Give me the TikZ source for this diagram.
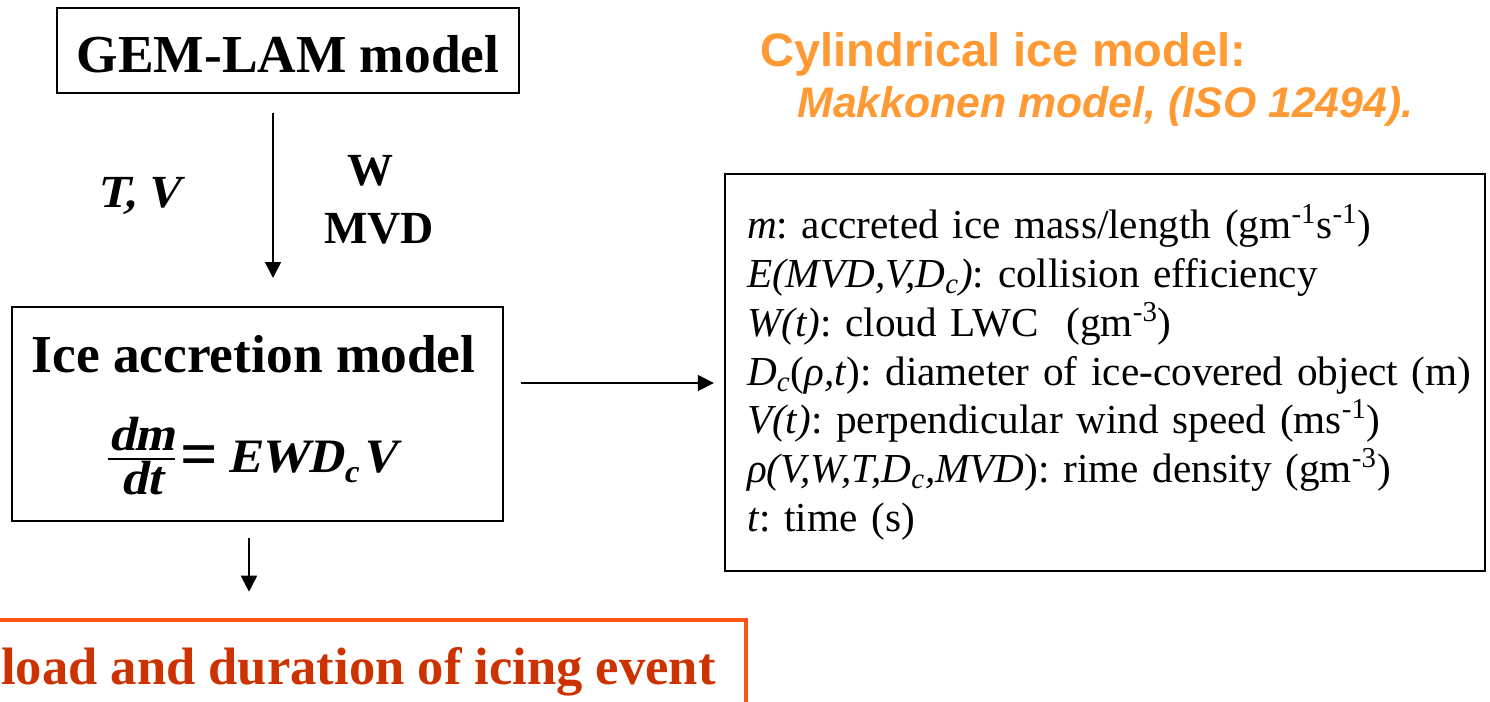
\documentclass[tikz,border=0pt]{standalone}
\usepackage{fontspec}
\setmainfont{Liberation Serif}[BoldItalicFont={Liberation Serif Bold}, BoldItalicFeatures={FakeSlant=0.21}]
\setsansfont{Liberation Sans}
\usetikzlibrary{positioning, arrows.meta}

\definecolor{cylorange}{RGB}{255,153,51}
\definecolor{loadred}{RGB}{204,51,0}
\definecolor{loadframe}{RGB}{255,85,20}

% stacked fraction set in text fonts
\newcommand{\stackfrac}[2]{{\renewcommand{\arraystretch}{0.42}\setlength{\arrayrulewidth}{1pt}%
    \begin{tabular}[c]{@{}c@{}}#1\\\hline\rule{0pt}{17.5pt}#2\end{tabular}}}

\begin{document}
\begin{tikzpicture}[
        x=0.5pt, y=-0.5pt,
        box/.style={draw, line width=1pt, inner sep=0pt},
        flow/.style={draw, line width=0.9pt, -{Triangle[length=8pt, width=8pt]}},
        bigbold/.style={font=\fontsize{26.7pt}{30pt}\selectfont\bfseries},
        varbold/.style={font=\fontsize{23pt}{27pt}\selectfont\bfseries},
        legend/.style={font=\fontsize{20.6pt}{24.4pt}\selectfont\frenchspacing, align=left, text width=358pt, inner xsep=11pt},
        cyltext/.style={font=\fontsize{23.5pt}{27pt}\selectfont\sffamily\bfseries, text=cylorange, inner sep=0pt}
    ]
    \clip (0,0) rectangle (1490,702);
    \useasboundingbox (0,0) rectangle (1490,702);

    % Model boxes
    \node[box, bigbold, minimum width=231pt, minimum height=42.5pt, text height=21.5pt, text depth=0pt] (gem) at (288,50.5) {GEM-LAM model};
    \node[box, minimum width=245.5pt, minimum height=107pt] (ice) at (257.5,414) {};
    \node[bigbold, anchor=base, inner sep=0pt] (icetitle) at (253.5,372) {Ice accretion model};
    \node[font=\fontsize{24pt}{28pt}\selectfont\bfseries\itshape, anchor=base, inner sep=0pt] (iceeq) at (252,472)
        {\stackfrac{dm}{dt}\kern3pt\raisebox{-2pt}{\fontsize{33pt}{33pt}\selectfont\upshape =}\kern5pt EWD\raisebox{-5pt}{\fontsize{16pt}{16pt}\selectfont c}\kern2pt V};

    % Inputs from GEM-LAM
    \node[varbold, anchor=base west, inner sep=0pt] (tv) at (97,207) {\itshape T,\kern5pt V};
    \node[varbold, anchor=base, inner sep=0pt] (w) at (370,185) {W};
    \node[varbold, anchor=base, inner sep=0pt] (mvd) at (379,243) {MVD};

    % Cylindrical model title
    \node[cyltext, anchor=base west] (cyl) at (760,66) {Cylindrical ice model:};
    \node[cyltext, font=\fontsize{21.4pt}{25pt}\selectfont\sffamily\bfseries\itshape, anchor=base west] (mak) at (797,117) {Makkonen model, (ISO 12494).};

    % Parameter list
    \node[box, line width=1.2pt, legend, minimum height=198.5pt] (params) at (1105,372.5) {%
        \textit{m}: accreted ice mass/length (gm\textsuperscript{-1}s\textsuperscript{-1})\\
        \textit{E(MVD,V,D\textsubscript{c})}: collision efficiency\\
        \textit{W(t)}: cloud LWC~ (gm\textsuperscript{-3})\\
        \makebox[358pt][l]{\textit{D}\textsubscript{\textit{c}}(\textit{ρ,t}): diameter of ice-covered object (m)}\\
        \textit{V(t)}: perpendicular wind speed (ms\textsuperscript{-1})\\
        \textit{ρ(V,W,T,D\textsubscript{c},MVD}): rime density (gm\textsuperscript{-3})\\
        \textit{t}: time (s)};

    % Result
    \node[draw=loadframe, line width=2.25pt, text=loadred, font=\fontsize{26.3pt}{30pt}\selectfont\bfseries, inner xsep=15pt, inner ysep=13.5pt, anchor=base east] (load) at (748,684) {load and duration of icing event};

    % Connectors
    \coordinate (ax) at (273,0);
    \coordinate (ry) at (0,383);
    \coordinate (dx) at (249,0);
    \draw[flow, shorten <=9.5pt, shorten >=14pt] (ax |- gem.south) -- (ax |- ice.north);
    \draw[flow, shorten <=8.5pt, shorten >=5pt] (ice.east |- ry) -- (params.west |- ry);
    \draw[flow, shorten <=8pt, shorten >=13pt] (dx |- ice.south) -- (dx |- load.north);

\end{tikzpicture}
\end{document}
